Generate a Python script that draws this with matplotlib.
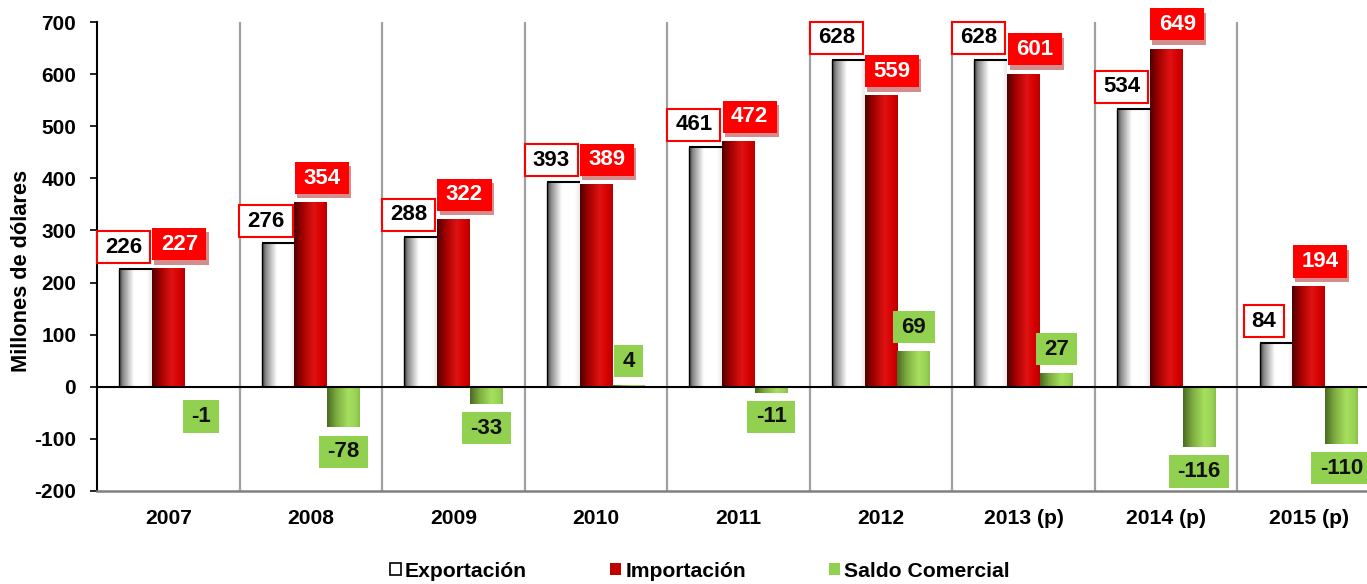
import numpy as np
import matplotlib
matplotlib.use("Agg")
import matplotlib.pyplot as plt
from matplotlib.colors import LinearSegmentedColormap
from matplotlib.patches import Rectangle
from matplotlib.path import Path
import matplotlib.patheffects as pe

years = ['2007', '2008', '2009', '2010', '2011', '2012', '2013 (p)', '2014 (p)', '2015 (p)']
exportacion = [226, 276, 288, 393, 461, 628, 628, 534, 84]
importacion = [227, 354, 322, 389, 472, 559, 601, 649, 194]
saldo = [-1, -78, -33, 4, -11, 69, 27, -116, -110]
series_names = ['Exportación', 'Importación', 'Saldo Comercial']
yticks = [-200, -100, 0, 100, 200, 300, 400, 500, 600, 700]

plt.rcParams['font.family'] = ['Liberation Sans', 'DejaVu Sans']
plt.rcParams['font.weight'] = 'bold'

fig = plt.figure(figsize=(13.67, 5.84), dpi=100)
L, B = 97 / 1367, 93 / 584
W, H = 1283 / 1367, 469 / 584
ax = fig.add_axes([L, B, W, H])

x = np.arange(len(years))
bw = 0.23

cm_exp = LinearSegmentedColormap.from_list('e', [(0, '#3a3a3a'), (0.12, '#8a8a8a'), (0.45, '#ffffff'), (0.85, '#ffffff'), (1, '#e8e8e8')])
cm_imp = LinearSegmentedColormap.from_list('i', [(0, '#4a0000'), (0.25, '#a00000'), (0.6, '#e01212'), (0.85, '#d40000'), (1, '#b80000')])
cm_sal = LinearSegmentedColormap.from_list('s', [(0, '#4a6a22'), (0.3, '#7fae42'), (0.65, '#a6e05e'), (0.9, '#98d254'), (1, '#86bc48')])

grad = np.linspace(0, 1, 256).reshape(1, -1)


def gradient_bars(xs, vals, cmap, edge=None):
    bars = ax.bar(xs, vals, bw, facecolor='none', edgecolor='none', zorder=3)
    for b in bars:
        bx, by = b.get_x(), b.get_y()
        w, h = b.get_width(), b.get_height()
        y0, y1 = min(by, by + h), max(by, by + h)
        im = ax.imshow(grad, extent=[bx, bx + w, y0, y1], aspect='auto', cmap=cmap,
                       zorder=2.5, interpolation='bicubic')
        im.set_clip_path(b)
        if edge:
            ax.plot([bx, bx + w], [y1, y1], color=edge, lw=1.5, zorder=3.2, solid_capstyle='butt')
            ax.plot([bx, bx], [y0, y1], color=edge, lw=1.0, zorder=3.2, solid_capstyle='butt')
    return bars


gradient_bars(x - bw, exportacion, cm_exp, edge='black')
gradient_bars(x, importacion, cm_imp)
gradient_bars(x + bw, saldo, cm_sal)


def make_box(padx, pady):
    def box(x0, y0, width, height, mutation_size):
        px, py = padx * mutation_size, pady * mutation_size
        xa, ya, xb, yb = x0 - px, y0 - py, x0 + width + px, y0 + height + py
        return Path([(xa, ya), (xb, ya), (xb, yb), (xa, yb), (xa, ya)],
                    [Path.MOVETO, Path.LINETO, Path.LINETO, Path.LINETO, Path.CLOSEPOLY])
    return box


lab_fs = 16
for xi, v in zip(x, exportacion):
    ax.annotate(f'{v}', (xi - bw, v), xytext=(-8.6, 15.8), textcoords='offset points',
                ha='center', va='center', fontsize=lab_fs, fontweight='bold', color='black', zorder=6,
                bbox=dict(boxstyle=make_box(0.36, 0.25), facecolor='white', edgecolor='#ff0000', lw=1.5))
for xi, v in zip(x, importacion):
    t = ax.annotate(f'{v}', (xi, v), xytext=(8, 17.4), textcoords='offset points',
                    ha='center', va='center', fontsize=lab_fs, fontweight='bold', color='white', zorder=6,
                    bbox=dict(boxstyle=make_box(0.38, 0.25), facecolor='#ff0000', edgecolor='none'))
    t.get_bbox_patch().set_path_effects([pe.SimplePatchShadow(offset=(1.5, -3), shadow_rgbFace='#a00000', alpha=0.45), pe.Normal()])
for xi, v in zip(x, saldo):
    dy = 17 if v > 0 else -17.5
    if v == -1:
        dy = -21
    ax.annotate(f'{v}', (xi + bw, v), xytext=(0, dy), textcoords='offset points',
                ha='center', va='center', fontsize=lab_fs, fontweight='bold', color='#111111', zorder=6,
                bbox=dict(boxstyle=make_box(0.38, 0.25), facecolor='#92d050', edgecolor='none'))

# separators
ax.vlines(np.arange(len(years)) + 0.5, -200, 700, color='#a0a0a0', lw=1.6, zorder=1)
ax.axhline(0, color='black', lw=1.5, zorder=4)

ax.set_xlim(-0.5, len(years) - 0.5)
ax.set_ylim(-200, 700)
ax.set_yticks(yticks)
ax.set_yticklabels([str(t) for t in yticks], fontsize=15, fontweight='bold')
ax.set_xticks(x)
ax.set_xticklabels(years, fontsize=15.2, fontweight='bold')
ax.tick_params(axis='x', length=0, pad=13)
ax.tick_params(axis='y', length=5, width=1.2, pad=10)
for s in ['top', 'right']:
    ax.spines[s].set_visible(False)
ax.spines['left'].set_linewidth(1.5)
ax.spines['bottom'].set_color('#808080')
ax.spines['bottom'].set_linewidth(1.8)
ax.set_ylabel('Millones de dólares', fontsize=15.7, fontweight='bold')
ax.yaxis.set_label_coords(-0.051, 0.47)

handles = [Rectangle((0, 0), 1, 1, facecolor='white', edgecolor='black', lw=1.2),
           Rectangle((0, 0), 1, 1, facecolor='#c00000', edgecolor='none'),
           Rectangle((0, 0), 1, 1, facecolor='#92d050', edgecolor='none')]
fig.legend(handles, series_names, loc='center', bbox_to_anchor=(0.512, 0.022), ncol=3,
           frameon=False, prop={'size': 15.2, 'weight': 'bold'}, handlelength=0.5, handleheight=0.5,
           handletextpad=0.2, columnspacing=3.95, borderaxespad=0, borderpad=0)

fig.savefig('out.png', dpi=100)
